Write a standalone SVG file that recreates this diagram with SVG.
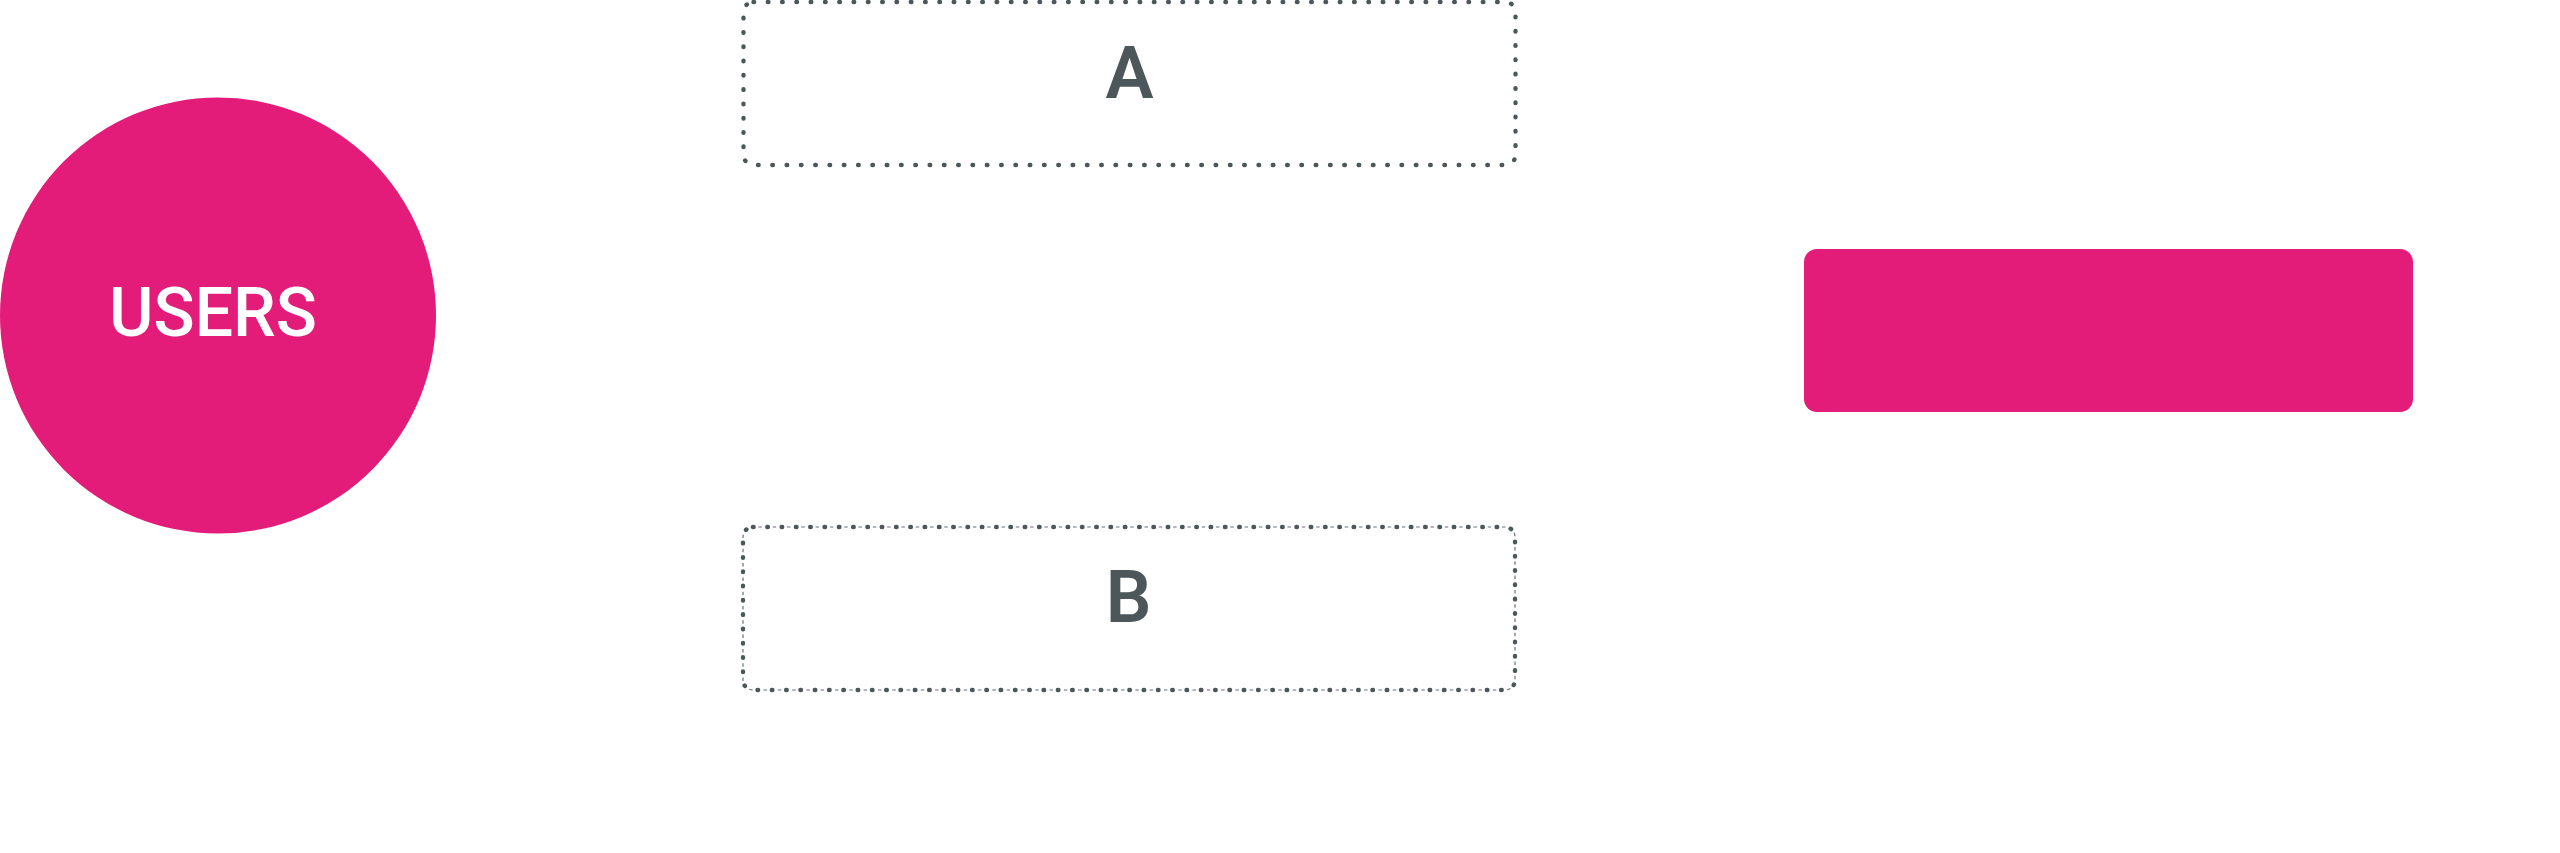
<svg xmlns="http://www.w3.org/2000/svg" width="2560" height="853" viewBox="0 0 2560 853">
<style>
.pink{fill:#e31b79}
.dot{fill:none;stroke:#4d5759;stroke-width:4.4;stroke-linecap:round;stroke-dasharray:0.6 13.7}
.thin{fill:none;stroke:#4d5759;stroke-width:1.2;stroke-dasharray:3.5 10.8;stroke-dashoffset:-5.4;opacity:0.85}
.lbl{font-family:Roboto,"Liberation Sans",sans-serif;font-size:72px;font-weight:600;fill:#4d5759;text-anchor:middle}
.wlbl{font-family:Roboto,"Liberation Sans",sans-serif;font-size:68px;font-weight:500;fill:#ffffff;text-anchor:middle}
</style>
<rect width="2560" height="853" fill="#ffffff"/>
<g id="users">
<circle class="pink" cx="218" cy="315.5" r="218"/>
<text class="wlbl" x="213" y="336">USERS</text>
</g>
<g id="nodeA">
<rect class="dot" x="743.5" y="2" width="772" height="163" rx="10"/>
<text class="lbl" x="1129.5" y="98">A</text>
</g>
<g id="nodeB">
<rect class="thin" x="743" y="527" width="772" height="163" rx="10"/>
<rect class="dot" x="743" y="527" width="772" height="163" rx="10"/>
<text class="lbl" x="1128.5" y="622">B</text>
</g>
<g id="target">
<rect class="pink" x="1804" y="249" width="609" height="163" rx="13"/>
</g>
<g id="connectors"></g>
</svg>
